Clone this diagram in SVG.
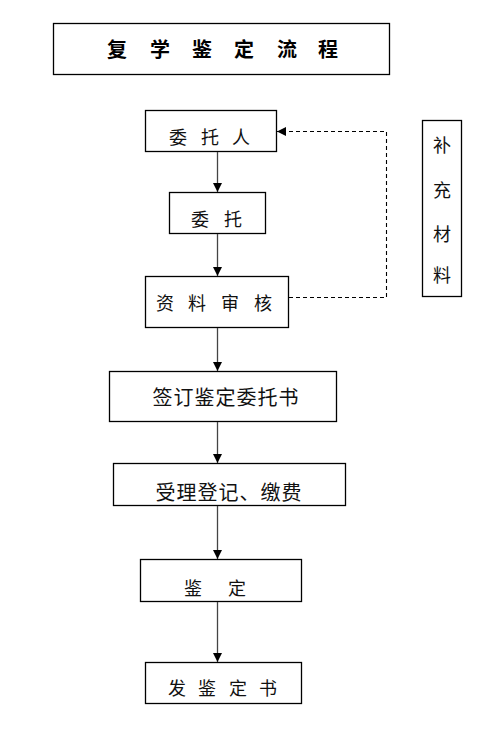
<svg xmlns="http://www.w3.org/2000/svg" width="493" height="732" viewBox="0 0 493 732">
<defs>
<style>
.box{fill:#fff;stroke:#000;stroke-width:1.3}
.t{font-family:"Noto Sans CJK SC","Noto Sans CJK TC",sans-serif;font-size:18px;fill:#111;text-anchor:middle;dominant-baseline:central}
.big{font-size:20px}
.title{font-size:20px;font-weight:bold;fill:#000}
.ln{stroke:#444;stroke-width:1.3;fill:none}
.dash{stroke:#000;stroke-width:1.1;fill:none;stroke-dasharray:4 3}
</style>
<marker id="ah" viewBox="0 0 10 10" refX="10" refY="5" markerWidth="9" markerHeight="9" markerUnits="userSpaceOnUse" orient="auto">
<path d="M0,0 L10,5 L0,10 z" fill="#000"/>
</marker>
</defs>
<rect width="493" height="732" fill="#fff"/>
<g id="title">
<rect class="box" x="53.5" y="23.5" width="336" height="51"/>
<text class="t title" x="117 160 202 244 287 328" y="48">复学鉴定流程</text>
</g>
<g id="n1">
<rect class="box" x="145.5" y="110.5" width="131" height="41"/>
<text class="t" x="178 210 241" y="136">委托人</text>
</g>
<g id="n2">
<rect class="box" x="169.5" y="192.5" width="96" height="41"/>
<text class="t" x="200 233" y="218">委托</text>
</g>
<g id="n3">
<rect class="box" x="145.5" y="276.5" width="143" height="51"/>
<text class="t" x="165 197 230 263" y="302">资料审核</text>
</g>
<g id="n4">
<rect class="box" x="109.5" y="371.5" width="227" height="50"/>
<text class="t big" x="226" y="396" letter-spacing="1">签订鉴定委托书</text>
</g>
<g id="n5">
<rect class="box" x="113.5" y="463.5" width="232" height="42"/>
<text class="t big" x="229" y="491" letter-spacing="1">受理登记、缴费</text>
</g>
<g id="n6">
<rect class="box" x="140.5" y="559.5" width="161" height="42"/>
<text class="t" x="193 237" y="587">鉴定</text>
</g>
<g id="n7">
<rect class="box" x="145.5" y="662.5" width="156" height="41"/>
<text class="t" x="177 207 238 268" y="687">发鉴定书</text>
</g>
<g id="side">
<rect class="box" x="422.5" y="120.5" width="39" height="176"/>
<text class="t" x="442" y="144">补</text>
<text class="t" x="442" y="189">充</text>
<text class="t" x="442" y="233">材</text>
<text class="t" x="442" y="274">料</text>
</g>
<g id="connectors">
<line class="ln" x1="217.5" y1="152" x2="217.5" y2="192" marker-end="url(#ah)"/>
<line class="ln" x1="217.5" y1="234" x2="217.5" y2="276" marker-end="url(#ah)"/>
<line class="ln" x1="217.5" y1="328" x2="217.5" y2="371" marker-end="url(#ah)"/>
<line class="ln" x1="217.5" y1="422" x2="217.5" y2="463" marker-end="url(#ah)"/>
<line class="ln" x1="217.5" y1="506" x2="217.5" y2="559" marker-end="url(#ah)"/>
<line class="ln" x1="217.5" y1="602" x2="217.5" y2="662" marker-end="url(#ah)"/>
<polyline class="dash" points="289,297.5 386.5,297.5 386.5,131.5 277,131.5" marker-end="url(#ah)"/>
</g>
</svg>
